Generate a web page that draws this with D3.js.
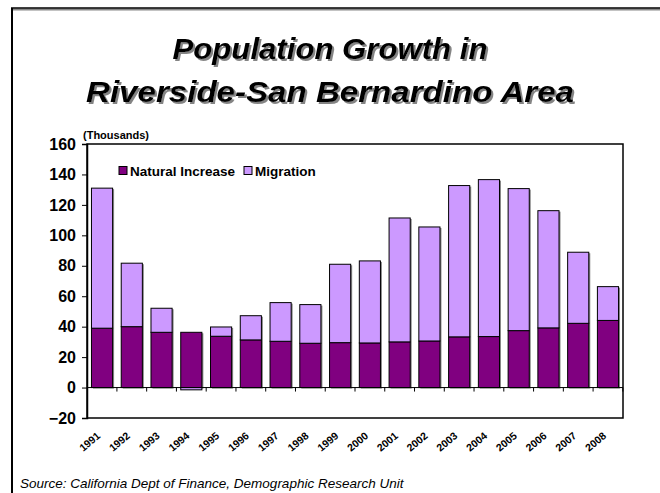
<!DOCTYPE html>
<html><head><meta charset="utf-8">
<script src="https://cdn.jsdelivr.net/npm/d3@7"></script>
<style>body{margin:0;background:#fff}svg{display:block}text{font-family:"Liberation Sans",Arial,sans-serif}</style>
</head><body><svg id="c" width="660" height="493"></svg>
<script>
const years = ["1991","1992","1993","1994","1995","1996","1997","1998","1999","2000","2001","2002","2003","2004","2005","2006","2007","2008"];
const naturalIncrease = [39,40,36.3,36.3,33.7,31.3,30.4,29.1,29.5,29.3,30,30.6,33.3,33.5,37.4,39.2,42.2,44.1];
const migration = [92,41.7,15.8,-1.5,6.1,15.9,25.4,25.4,51.5,53.9,81.4,74.9,99.4,103.1,93.3,77,46.7,22.2];
const yTicks = [-20,0,20,40,60,80,100,120,140,160];
const seriesNames = ["Natural Increase","Migration"];
const colors = ["#800080","#CC99FF"];

const svg = d3.select("#c");
const defs = svg.append("defs");
const f = defs.append("filter").attr("id","sh").attr("x","-5%").attr("y","-20%").attr("width","110%").attr("height","150%");
f.append("feDropShadow").attr("dx",2).attr("dy",2).attr("stdDeviation",0.6).attr("flood-color","#777").attr("flood-opacity",0.9);

const L=87,R=623,T=144,B=418;
const x = d3.scaleBand().domain(years).range([L,R]).paddingInner(0.29).paddingOuter(0.15);
const y = d3.scaleLinear().domain([-20,160]).range([B,T]);

// outer frame
svg.append("line").attr("x1",11).attr("x2",660).attr("y1",9.5).attr("y2",9.5).attr("stroke","#888").attr("stroke-width",2);
svg.append("line").attr("x1",11).attr("x2",660).attr("y1",8).attr("y2",8).attr("stroke","#000").attr("stroke-width",1.5);
svg.append("line").attr("x1",12).attr("x2",12).attr("y1",8).attr("y2",493).attr("stroke","#000").attr("stroke-width",2);

// title
const titleLines = ["Population Growth in","Riverside-San Bernardino Area"];
const titleW = [315,488];
titleLines.forEach((t,i)=>{
  svg.append("text").attr("x",330).attr("y",59+i*43).attr("text-anchor","middle")
    .attr("font-size",29).attr("font-weight","bold").attr("font-style","italic").attr("fill","#000")
    .attr("textLength",titleW[i]).attr("lengthAdjust","spacingAndGlyphs")
    .attr("filter","url(#sh)").text(t);
});

// plot frame
svg.append("rect").attr("x",L).attr("y",T).attr("width",R-L).attr("height",B-T).attr("fill","#fff").attr("stroke","#000").attr("stroke-width",1.5);

// y axis
const ya = svg.append("g").attr("transform",`translate(${L},0)`)
  .call(d3.axisLeft(y).tickValues(yTicks).tickSize(5).tickPadding(6));
ya.select(".domain").attr("stroke","#000").attr("stroke-width",1.5);
ya.selectAll("text").attr("font-size",16).attr("font-weight","bold").attr("font-family","Liberation Sans, Arial").attr("fill","#000");

svg.append("text").attr("x",83).attr("y",139).attr("font-size",11).attr("font-weight","bold").text("(Thousands)");

// bars
const data = years.map((yr,i)=>({yr, n:naturalIncrease[i], m:migration[i]}));
const segs = [];
data.forEach(d=>{
  segs.push({yr:d.yr, y0:0, y1:d.n, c:0});
  if(d.m>=0) segs.push({yr:d.yr, y0:d.n, y1:d.n+d.m, c:1});
  else segs.push({yr:d.yr, y0:d.m, y1:0, c:1});
});
const bw = x.bandwidth();
svg.append("g").selectAll("rect").data(data).join("rect")
  .attr("x",d=>x(d.yr)+1.5).attr("y",d=>y(Math.max(d.n,d.n+d.m))+1)
  .attr("width",bw).attr("height",d=>y(0)-y(Math.max(d.n,d.n+d.m)))
  .attr("fill","#888");
svg.append("g").selectAll("rect").data(segs).join("rect")
  .attr("x",d=>x(d.yr)).attr("y",d=>y(d.y1)).attr("width",bw).attr("height",d=>y(d.y0)-y(d.y1))
  .attr("fill",d=>colors[d.c]).attr("stroke","#000").attr("stroke-width",1);

// zero line with ticks
const step = x.step();
svg.append("line").attr("x1",L).attr("x2",R).attr("y1",y(0)).attr("y2",y(0)).attr("stroke","#000").attr("stroke-width",1);
svg.append("g").selectAll("line").data(years.slice(1).concat(["end"])).join("line")
  .attr("x1",(d,i)=> i<years.length-1 ? x(d)-step*0.29/2 : x(years[years.length-1])+bw+step*0.29/2)
  .attr("x2",(d,i)=> i<years.length-1 ? x(d)-step*0.29/2 : x(years[years.length-1])+bw+step*0.29/2)
  .attr("y1",y(0)).attr("y2",y(0)+4).attr("stroke","#000").attr("stroke-width",1);

// x labels
svg.append("g").selectAll("text").data(years).join("text")
  .attr("transform",d=>`translate(${x(d)+bw/2-1},${437}) rotate(-40)`)
  .attr("text-anchor","end").attr("font-size",10.5).attr("font-weight","bold").text(d=>d);

// legend
const lg = svg.append("g");
const legX = [119,244];
seriesNames.forEach((s,i)=>{
  lg.append("rect").attr("x",legX[i]).attr("y",166.5).attr("width",8).attr("height",8).attr("fill",colors[i]).attr("stroke","#000").attr("stroke-width",1);
  lg.append("text").attr("x",legX[i]+11).attr("y",175.5).attr("font-size",13.5).attr("font-weight","bold").text(s);
});

// source
svg.append("text").attr("x",20).attr("y",488).attr("font-size",13.5).attr("font-style","italic")
  .text("Source:  California Dept of Finance, Demographic Research Unit");
</script></body></html>
